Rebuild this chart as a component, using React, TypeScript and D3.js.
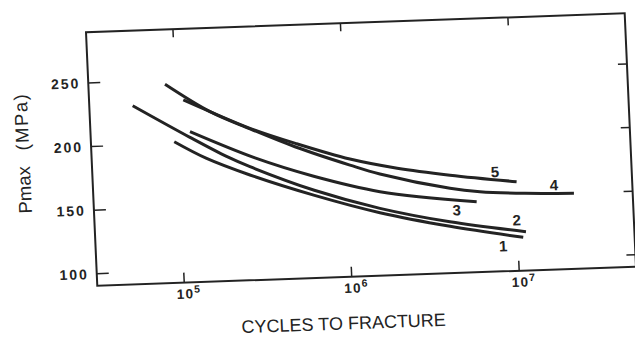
import React from 'react';
import * as d3 from 'd3';

// ---- data (cycles to fracture, Pmax in MPa) ----
const seriesNames = ['1', '2', '3', '4', '5'];
const cycles1 = [9.506e4, 1.467e5, 2.633e5, 6.31e5, 1.532e6, 3.981e6, 1.079e7];
const pmax1 = [201.5, 187.5, 173.3, 155.5, 140.1, 127.5, 116.8];
const cycles2 = [5.492e4, 1.182e5, 1.931e5, 2.647e5, 6.31e5, 1.537e6, 3.981e6, 1.124e7];
const pmax2 = [230.9, 204.5, 188.5, 179.8, 159.5, 143.5, 131.0, 121.1];
const cycles3 = [1.187e5, 2.85e5, 6.31e5, 1.552e6, 5.818e6];
const pmax3 = [208.9, 186.5, 170.5, 156.6, 146.0];
const cycles4 = [8.67e4, 1.581e5, 2.71e5, 5.012e5, 1.045e6, 1.568e6, 4.066e6, 6.124e6, 1.134e7, 2.223e7];
const pmax4 = [246.8, 224.1, 209.5, 194.0, 178.3, 170.5, 157.3, 153.8, 151.3, 150.0];
const cycles5 = [1.104e5, 1.581e5, 2.71e5, 5.012e5, 1.048e6, 1.995e6, 4.101e6, 1.019e7];
const pmax5 = [234.0, 224.1, 209.9, 196.8, 183.0, 174.5, 167.6, 160.6];

const labelCycles = [8.156e6, 9.959e6, 4.399e6, 1.698e7, 7.616e6];
const labelPmax = [110.5, 130.6, 140.1, 157.0, 169.1];

const xTicks = [1e5, 1e6, 1e7];
const xTickExp = ['5', '6', '7'];
const yTicks = [100, 150, 200, 250];

const xDomain = [3.026e4, 4.98e7];
const yDomain = [90.63, 289.8];

const W = 539;
const H = 253.65;
const INK = '#232323';

export default function App() {
  const x = d3.scaleLog().domain(xDomain).range([0, W]);
  const y = d3.scaleLinear().domain(yDomain).range([H, 0]);
  const line = d3
    .line<[number, number]>()
    .x((d) => x(d[0]))
    .y((d) => y(d[1]))
    .curve(d3.curveCatmullRom.alpha(0.5));

  const allCycles = [cycles1, cycles2, cycles3, cycles4, cycles5];
  const allPmax = [pmax1, pmax2, pmax3, pmax4, pmax5];
  const series = allCycles.map((c, i) => c.map((v, j) => [v, allPmax[i][j]] as [number, number]));

  const font = '"Liberation Sans", Arial, Helvetica, sans-serif';

  return (
    <svg
      width={635}
      height={339}
      style={{ position: 'absolute', left: 0, top: 0, background: '#fff' }}
      fontFamily={font}
    >
      <rect x={0} y={0} width={635} height={339} fill="#fff" />
      <g transform="matrix(0.9994,-0.0353,0.0445,0.999,86.0,32.3)">
        {/* frame */}
        <rect x={0} y={0} width={W} height={H} fill="none" stroke={INK} strokeWidth={2} />
        {/* y ticks left & right */}
        {yTicks.map((t) => (
          <g key={'y' + t}>
            <line x1={0} x2={12} y1={y(t)} y2={y(t)} stroke={INK} strokeWidth={1.5} />
            <line x1={W - 9} x2={W} y1={y(t)} y2={y(t)} stroke={INK} strokeWidth={1.5} />
            <text
              x={-8}
              y={y(t)}
              dy="0.36em"
              textAnchor="end"
              fontSize={14}
              fontWeight="bold"
              letterSpacing={2}
              fill={INK}
            >
              {t}
            </text>
          </g>
        ))}
        {/* x ticks bottom & top */}
        {xTicks.map((t, i) => (
          <g key={'x' + t}>
            <line x1={x(t)} x2={x(t)} y1={H} y2={H - 10} stroke={INK} strokeWidth={1.5} />
            <line x1={x(t)} x2={x(t)} y1={0} y2={8} stroke={INK} strokeWidth={1.5} />
            <text x={x(t) - 8} y={H + 16} fontSize={13.5} fontWeight="bold" letterSpacing={1.3} fill={INK}>
              10
              <tspan dy={-5.5} fontSize={10.5}>
                {xTickExp[i]}
              </tspan>
            </text>
          </g>
        ))}
        {/* curves */}
        {series.map((s, i) => (
          <path key={'s' + i} d={line(s) || ''} fill="none" stroke={INK} strokeWidth={3} strokeLinecap="butt" />
        ))}
        {/* curve labels */}
        {seriesNames.map((n, i) => (
          <text
            key={'l' + n}
            x={x(labelCycles[i])}
            y={y(labelPmax[i])}
            dy="0.36em"
            textAnchor="middle"
            fontSize={15}
            fontWeight="bold"
            fill={INK}
          >
            {n}
          </text>
        ))}
        {/* axis titles */}
        <text x={244.5} y={H + 52.5} textAnchor="middle" fontSize={18} fill={INK}>
          CYCLES TO FRACTURE
        </text>
        <g transform="translate(-62,179) rotate(-90)">
          <text x={0} y={0} fontSize={18.5} fill={INK}>
            Pmax
          </text>
        </g>
        <g transform="translate(-62,116) rotate(-90)">
          <text x={0} y={0} fontSize={18.5} letterSpacing={1.5} fill={INK}>
            (MPa)
          </text>
        </g>
      </g>
    </svg>
  );
}
